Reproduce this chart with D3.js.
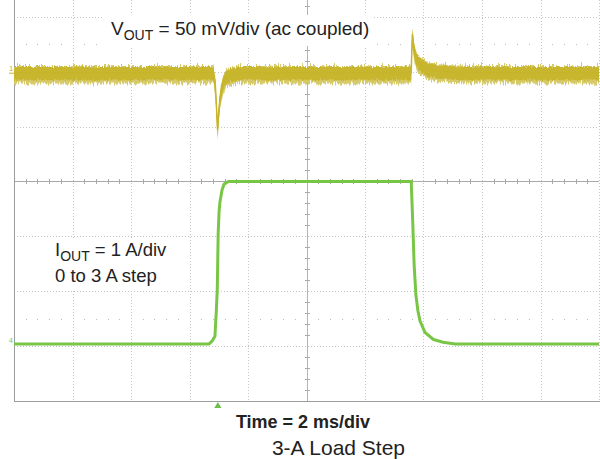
<!DOCTYPE html>
<html>
<head>
<meta charset="utf-8">
<script src="https://cdn.jsdelivr.net/npm/d3@7/dist/d3.min.js"></script>
<style>
  body { margin: 0; background: #fff; }
  svg { display: block; font-family: "Liberation Sans", Arial, sans-serif; }
</style>
</head>
<body>
<div id="graph"></div>
<script>
// scope settings
var timeDomain = [-10, 10];          // ms, 2 ms/div, 10 div
var divDomain = [-4, 4];             // vertical divisions
var ch1Scale = 50;                   // mV/div
var ch1Offset = 1.98;                // div
var ch4Scale = 1;                    // A/div
var ch4Offset = -2.96;               // div
var triggerTime = -3.03;             // ms

// channel 1: Vout (ac coupled), centre of the trace, mV
var vTime = [-10, -3.18, -3.12, -3.07, -3.04, -3.01, -2.97, -2.92, -2.85, -2.75, -2.6, -2.3,
             3.58, 3.60, 3.62, 3.66, 3.72, 3.78, 3.88, 4.0, 4.2, 4.5, 5.0, 5.5, 10];
var vOut = [0, 0, -10, -35, -52, -40, -27, -17, -9, -4, -1.5, 0,
            0, 20, 35, 24, 16, 11, 8, 5.5, 3, 1.5, 0.5, 0, 0];
var vNoiseCore = 6;     // mV, half band
var vNoiseSpike = 8;    // mV

// channel 4: Iout, A
var iTime = [-10, -3.33, -3.23, -3.13, -3.08, -3.05, -3.02, -2.99, -2.96, -2.89, -2.82, -2.67,
             3.58, 3.63, 3.68, 3.74, 3.81, 3.88, 4.05, 4.34, 4.67, 5.08, 10];
var iOut = [0, 0, 0.05, 0.14, 0.64, 1.0, 2.0, 2.4, 2.58, 2.8, 2.91, 2.96,
            2.96, 2.25, 1.44, 0.89, 0.6, 0.42, 0.21, 0.08, 0.03, 0, 0];

var width = 600, height = 459;
var left = 14, right = 599, bottom = 401, divH = 54.9;

var svg = d3.select('#graph').append('svg')
  .attr('width', width).attr('height', height);

var x = d3.scaleLinear().domain(timeDomain).range([left, right]);
var yDiv = d3.scaleLinear().domain(divDomain).range([bottom, bottom - 8 * divH]);
var yV = function(mv){ return yDiv(mv / ch1Scale + ch1Offset); };
var yI = function(a){ return yDiv(a / ch4Scale + ch4Offset); };

// noise texture for the Vout trace
var defs = svg.append('defs');
function jitter(id, scale, seed){
  var f = defs.append('filter').attr('id', id)
    .attr('x', '-2%').attr('y', '-60%').attr('width', '104%').attr('height', '220%');
  f.append('feTurbulence').attr('type', 'turbulence')
    .attr('baseFrequency', '0.75 0.004').attr('numOctaves', 2).attr('seed', seed).attr('result', 'n');
  f.append('feColorMatrix').attr('in', 'n').attr('type', 'matrix')
    .attr('values', '0 0 0 0 0.5  0 1 0 0 0  0 0 1 0 0  0 0 0 0 1').attr('result', 'm');
  f.append('feDisplacementMap').attr('in', 'SourceGraphic').attr('in2', 'm')
    .attr('scale', scale).attr('xChannelSelector', 'R').attr('yChannelSelector', 'G');
}
jitter('jitA', 9, 4);
jitter('jitB', 4, 9);

// graticule
var grid = svg.append('g');
var majorX = d3.range(1, 11).map(function(i){ return timeDomain[0] + i * 2; });
var majorY = d3.range(-3, 4).filter(function(d){ return d !== 0; });

grid.selectAll('.vx').data(majorX.filter(function(d){ return d !== 0; })).enter().append('line')
  .attr('x1', function(d){ return Math.round(x(d)) + 0.5; })
  .attr('x2', function(d){ return Math.round(x(d)) + 0.5; })
  .attr('y1', 0).attr('y2', bottom)
  .attr('stroke', '#c4c4c4').attr('stroke-dasharray', '1,2');

grid.selectAll('.hy').data(majorY).enter().append('line')
  .attr('x1', left).attr('x2', right)
  .attr('y1', function(d){ return Math.round(yDiv(d)) + 0.5; })
  .attr('y2', function(d){ return Math.round(yDiv(d)) + 0.5; })
  .attr('stroke', '#c4c4c4').attr('stroke-dasharray', '1,2');

// half-division dotted rows
var minorX = d3.range(1, 50).filter(function(k){ return k % 5 !== 0; })
  .map(function(k){ return timeDomain[0] + k * 0.4; });
[2.5, -2.5].forEach(function(dv){
  grid.selectAll(null).data(minorX).enter().append('rect')
    .attr('x', function(d){ return Math.round(x(d)); })
    .attr('y', Math.round(yDiv(dv)))
    .attr('width', 1).attr('height', 1)
    .attr('fill', '#bdbdbd');
});

// centre axes with minor ticks
grid.append('line')
  .attr('x1', left).attr('x2', right)
  .attr('y1', Math.round(yDiv(0)) + 0.5).attr('y2', Math.round(yDiv(0)) + 0.5)
  .attr('stroke', '#a9a9a9');
grid.append('line')
  .attr('x1', Math.round(x(0)) + 0.5).attr('x2', Math.round(x(0)) + 0.5)
  .attr('y1', 0).attr('y2', bottom)
  .attr('stroke', '#b4b4b4');
grid.selectAll(null).data(minorX).enter().append('line')
  .attr('x1', function(d){ return Math.round(x(d)) + 0.5; })
  .attr('x2', function(d){ return Math.round(x(d)) + 0.5; })
  .attr('y1', Math.round(yDiv(0)) - 2).attr('y2', Math.round(yDiv(0)) + 3)
  .attr('stroke', '#a9a9a9');
var minorY = d3.range(1, 40).filter(function(k){ return k % 5 !== 0; })
  .map(function(k){ return k * 0.2 - 4; })
  .filter(function(d){ return yDiv(d) > 2 && yDiv(d) < bottom; });
grid.selectAll(null).data(minorY).enter().append('line')
  .attr('x1', Math.round(x(0)) - 2).attr('x2', Math.round(x(0)) + 3)
  .attr('y1', function(d){ return Math.round(yDiv(d)) + 0.5; })
  .attr('y2', function(d){ return Math.round(yDiv(d)) + 0.5; })
  .attr('stroke', '#a9a9a9');

// frame
grid.append('line')
  .attr('x1', left + 0.5).attr('x2', left + 0.5).attr('y1', 0).attr('y2', bottom)
  .attr('stroke', '#9c9c9c');
grid.append('line')
  .attr('x1', left).attr('x2', width).attr('y1', bottom + 0.5).attr('y2', bottom + 0.5)
  .attr('stroke', '#9c9c9c');

// white boxes behind the annotations
svg.append('rect').attr('x', 104).attr('y', 15).attr('width', 269).attr('height', 31).attr('fill', '#fff');
svg.append('rect').attr('x', 48).attr('y', 238).attr('width', 142).attr('height', 53).attr('fill', '#fff');

// Vout trace
var vData = vTime.map(function(t, i){ return {t: t, v: vOut[i]}; });
var band = function(h){
  return d3.area()
    .x(function(d){ return x(d.t); })
    .y0(function(d){ return yV(d.v - h); })
    .y1(function(d){ return yV(d.v + h); });
};
svg.append('path').datum(vData)
  .attr('d', band(vNoiseSpike))
  .attr('fill', '#d6ca6a')
  .attr('filter', 'url(#jitA)');
svg.append('path').datum(vData)
  .attr('d', band(vNoiseCore))
  .attr('fill', '#c8b72e')
  .attr('filter', 'url(#jitB)');
svg.append('path').datum(vData)
  .attr('d', d3.line().x(function(d){ return x(d.t); }).y(function(d){ return yV(d.v); }))
  .attr('fill', 'none').attr('stroke', '#c6b42a').attr('stroke-width', 1.5);

// Iout trace
var iData = iTime.map(function(t, i){ return {t: t, a: iOut[i]}; });
svg.append('path').datum(iData)
  .attr('d', d3.line().x(function(d){ return x(d.t); }).y(function(d){ return yI(d.a); }))
  .attr('fill', 'none').attr('stroke', '#79c646').attr('stroke-width', 3)
  .attr('stroke-linejoin', 'round');

// channel markers
svg.append('text').attr('x', 9).attr('y', yV(0) - 2)
  .attr('font-size', 8).attr('fill', '#c8b62c').text('1');
svg.append('line').attr('x1', 9).attr('x2', 14).attr('y1', yV(0) + 0.5).attr('y2', yV(0) + 0.5)
  .attr('stroke', '#c8b62c');
svg.append('text').attr('x', 9).attr('y', yI(0) - 1)
  .attr('font-size', 7).attr('fill', '#79c646').text('4');
svg.append('path')
  .attr('d', d3.symbol().type(d3.symbolTriangle).size(22)())
  .attr('transform', 'translate(' + x(triggerTime) + ',' + (bottom + 5) + ')')
  .attr('fill', '#6cc04a');

// annotations
var t1 = svg.append('text').attr('x', 111).attr('y', 34.5)
  .attr('font-size', 19).attr('fill', '#222');
t1.append('tspan').text('V');
t1.append('tspan').attr('font-size', 14).attr('dy', 5).text('OUT');
t1.append('tspan').attr('dy', -5).text(' = 50 mV/div (ac coupled)');

var t2 = svg.append('text').attr('x', 55).attr('y', 256)
  .attr('font-size', 18.5).attr('fill', '#222');
t2.append('tspan').text('I');
t2.append('tspan').attr('font-size', 14).attr('dy', 5).text('OUT');
t2.append('tspan').attr('dy', -5).text(' = 1 A/div');
svg.append('text').attr('x', 55).attr('y', 281.5)
  .attr('font-size', 18.5).attr('fill', '#222').text('0 to 3 A step');

svg.append('text').attr('x', 303).attr('y', 428)
  .attr('text-anchor', 'middle').attr('font-size', 18).attr('font-weight', 'bold')
  .attr('fill', '#222').text('Time = 2 ms/div');
svg.append('text').attr('x', 338.5).attr('y', 455)
  .attr('text-anchor', 'middle').attr('font-size', 21)
  .attr('fill', '#222').text('3-A Load Step');
</script>
</body>
</html>
